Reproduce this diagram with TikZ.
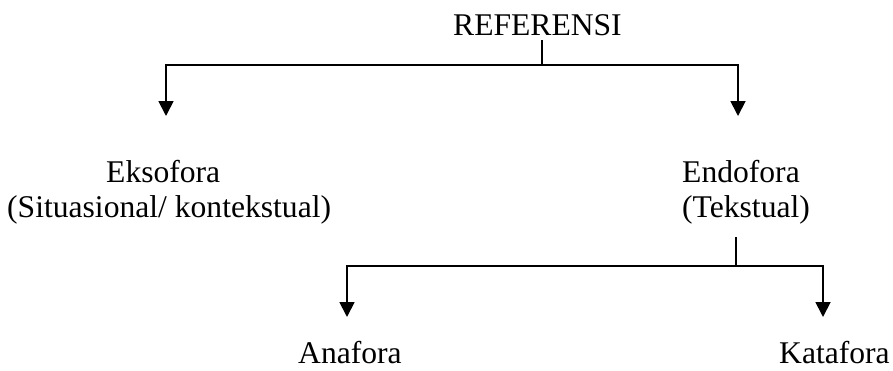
\documentclass[tikz,border=0pt]{standalone}
\usepackage{fontspec}
\setmainfont{Liberation Serif}
\usetikzlibrary{arrows.meta}
\begin{document}
\begin{tikzpicture}[x=1pt,y=-1pt,
  lbl/.style={inner sep=0pt,anchor=base west,font=\fontsize{31.6}{36}\selectfont},
  conn/.style={line width=1.8pt,line join=miter},
  arr/.style={conn,-{Triangle[width=15pt,length=15pt]}}]
\useasboundingbox (0,0) rectangle (893,370);
% texts
\node[lbl] (ref) at (453,35) {REFERENSI};
\node[lbl] (ekso) at (106,182) {Eksofora};
\node[lbl] (ekso2) at (7,217) {(Situasional/ kontekstual)};
\node[lbl] (endo) at (682,182) {Endofora};
\node[lbl] (endo2) at (682,217) {(Tekstual)};
\node[lbl] (ana) at (298,363) {Anafora};
\node[lbl] (kata) at (779,363) {Katafora};
% connector points
\coordinate (rtop) at (542,40);
\coordinate (rmid) at (542,65);
\coordinate (tipL) at (166,116);
\coordinate (tipR) at (738,116);
\coordinate (etop) at (736,237);
\coordinate (emid) at (736,266);
\coordinate (tipA) at (347,317);
\coordinate (tipK) at (823,317);
% connectors
\draw[conn] (rtop) -- (rmid);
\draw[arr] (rmid) -| (tipL);
\draw[arr] (rmid) -| (tipR);
\draw[conn] (etop) -- (emid);
\draw[arr] (emid) -| (tipA);
\draw[arr] (emid) -| (tipK);
\end{tikzpicture}
\end{document}
